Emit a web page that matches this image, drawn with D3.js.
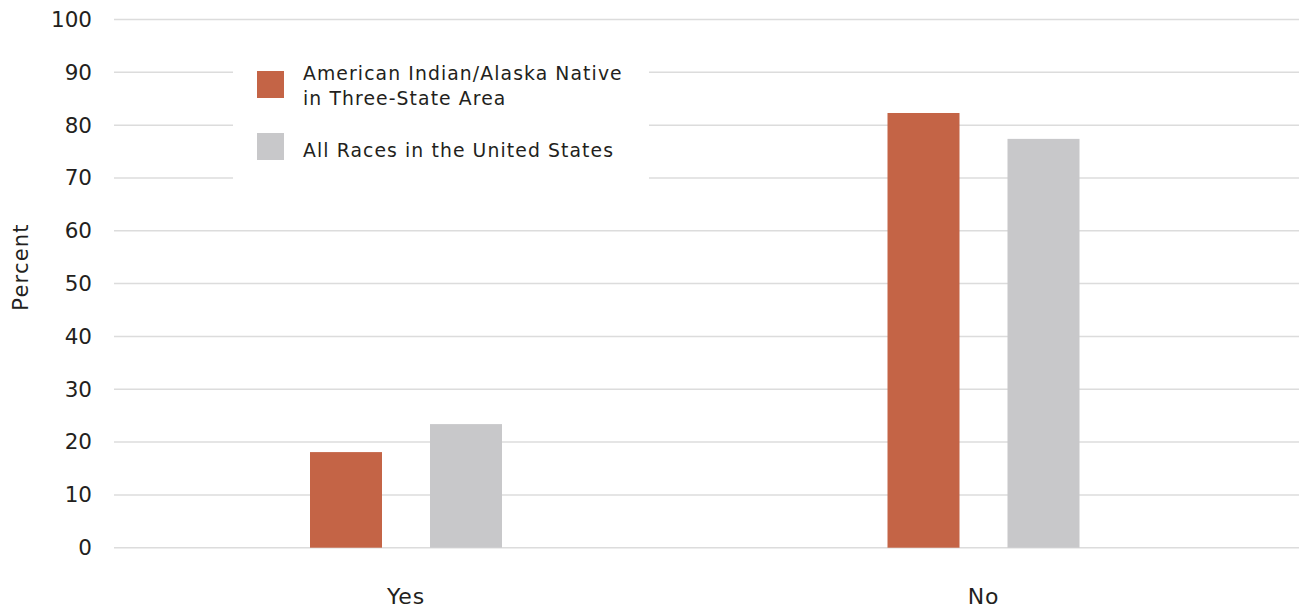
<!DOCTYPE html>
<html>
<head>
<meta charset="utf-8">
<script src="https://cdn.jsdelivr.net/npm/d3@7"></script>
<style>
  html, body { margin: 0; padding: 0; background: #fff; }
  svg { display: block; }
  text { font-family: "DejaVu Sans", sans-serif; fill: #231f20; }
</style>
</head>
<body>
<svg id="chart" width="1301" height="609"></svg>
<script>
// Chart data
const categories = ["Yes", "No"];
const seriesNames = ["American Indian/Alaska Native in Three-State Area", "All Races in the United States"];
const aianValues = [18.1, 82.3];
const allRacesValues = [23.4, 77.4];
const yTicks = [0, 10, 20, 30, 40, 50, 60, 70, 80, 90, 100];
const legendLines = [["American Indian/Alaska Native", "in Three-State Area"], ["All Races in the United States"]];

const colors = ["#c46446", "#c8c8ca"];
const seriesValues = [aianValues, allRacesValues];
const fontFamily = "'DejaVu Sans', sans-serif";

const svg = d3.select("#chart");

const y = d3.scaleLinear().domain([0, 100]).range([547.7, 19.5]);
const x0 = d3.scaleBand().domain(categories).range([117.25, 1272.25]).padding(0);
const groupWidth = 192;
const x1 = d3.scaleBand().domain(seriesNames).range([0, groupWidth]).paddingInner(0.4).paddingOuter(0);

// Horizontal gridlines
svg.append("g")
  .selectAll("line")
  .data(yTicks)
  .join("line")
  .attr("x1", 114).attr("x2", 1299)
  .attr("y1", d => y(d)).attr("y2", d => y(d))
  .attr("stroke", "#dcdcdc").attr("stroke-width", 1.5);

// Y axis labels
const yAxis = d3.axisLeft(y).tickValues(yTicks).tickSize(0).tickPadding(0).tickFormat(d3.format("d"));
const yg = svg.append("g").attr("transform", "translate(92,0)").call(yAxis);
yg.select(".domain").remove();
yg.selectAll("text").attr("font-size", 21.5).attr("fill", "#231f20")
  .attr("font-family", fontFamily);

// Y axis title
svg.append("text")
  .attr("transform", "translate(28,267) rotate(-90)")
  .attr("text-anchor", "middle")
  .attr("font-size", 21)
  .attr("letter-spacing", 1.2)
  .text("Percent");

// Bars
const groups = svg.append("g")
  .selectAll("g")
  .data(categories)
  .join("g")
  .attr("transform", c => `translate(${x0(c) + (x0.bandwidth() - groupWidth) / 2},0)`);

groups.selectAll("rect")
  .data((c, i) => seriesNames.map((s, j) => ({ s, j, v: seriesValues[j][i] })))
  .join("rect")
  .attr("x", d => x1(d.s))
  .attr("width", x1.bandwidth())
  .attr("y", d => y(d.v))
  .attr("height", d => y(0) - y(d.v))
  .attr("fill", d => colors[d.j]);

// X axis labels
const xAxis = d3.axisBottom(x0).tickSize(0).tickPadding(0);
const xg = svg.append("g").attr("transform", "translate(0,588)").call(xAxis);
xg.select(".domain").remove();
xg.selectAll("text").attr("font-size", 22).attr("fill", "#231f20")
  .attr("font-family", fontFamily).attr("dy", "0.74em")
  .attr("letter-spacing", 0.8);

// Legend
const legend = svg.append("g");
legend.append("rect")
  .attr("x", 233).attr("y", 50).attr("width", 416).attr("height", 132)
  .attr("fill", "#fff");

const legendRows = [
  { y: 71, baselines: [80, 105] },
  { y: 133, baselines: [157] }
];
legendRows.forEach((row, i) => {
  legend.append("rect")
    .attr("x", 257).attr("y", row.y).attr("width", 27).attr("height", 27)
    .attr("fill", colors[i]);
  legendLines[i].forEach((line, k) => {
    legend.append("text")
      .attr("x", 303).attr("y", row.baselines[k])
      .attr("font-size", 18.8)
      .attr("letter-spacing", 1.1)
      .text(line);
  });
});
</script>
</body>
</html>
